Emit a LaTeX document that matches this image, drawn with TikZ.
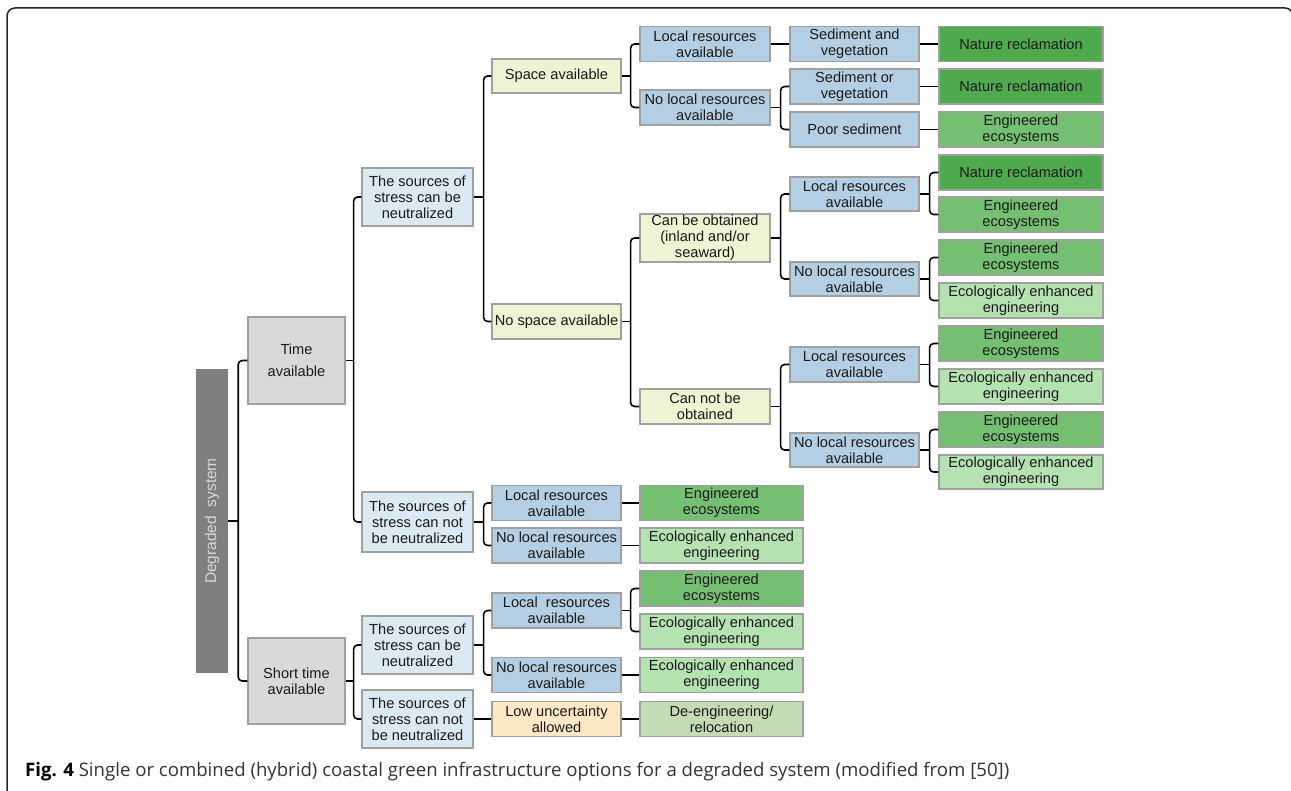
\documentclass[tikz,border=0pt]{standalone}
\usepackage{fontspec}
\setmainfont{Liberation Sans}
\newfontfamily\capfont{Open Sans}
\definecolor{degray}{HTML}{7F7F7F}
\definecolor{timegray}{HTML}{D9D9D9}
\definecolor{srcblue}{HTML}{DBE9F2}
\definecolor{midblue}{HTML}{B4CFE3}
\definecolor{paleyellow}{HTML}{EFF2D3}
\definecolor{natgreen}{HTML}{4EAA4C}
\definecolor{enggreen}{HTML}{75BF72}
\definecolor{ecogreen}{HTML}{B5E2B1}
\definecolor{deenggreen}{HTML}{C3DCB5}
\definecolor{loworange}{HTML}{FDE8C6}
\definecolor{boxgray}{HTML}{A0A0A0}
\definecolor{txt}{HTML}{1A1A1A}
\begin{document}
\begin{tikzpicture}[x=1pt,y=-1pt,
  box/.style={draw=boxgray, line width=1.2pt, align=center, inner sep=0pt, text=txt,
    font=\fontsize{14.6}{16}\selectfont, minimum height=35pt},
  timebox/.style={box, fill=timegray, minimum width=97pt, minimum height=87pt},
  srcbox/.style={box, fill=srcblue, minimum width=111pt, minimum height=58pt},
  yelbox/.style={box, fill=paleyellow, minimum width=129pt},
  resbox/.style={box, fill=midblue, minimum width=129pt},
  natleaf/.style={box, fill=natgreen, minimum width=164pt},
  engleaf/.style={box, fill=enggreen, minimum width=164pt},
  ecoleaf/.style={box, fill=ecogreen, minimum width=164pt},
  link/.style={line width=1.6pt, draw=black},
  busline/.style={link, rounded corners=4pt}]
\useasboundingbox (0,0) rectangle (1291,791);
\draw[line width=1.5pt, draw=black!85, rounded corners=8pt] (7,800) -- (7,8) -- (1293,8) -- (1293,800);

% root and first split
\node[fill=degray, inner sep=0pt, minimum width=32pt, minimum height=304pt, text=white!85!black,
  font=\fontsize{15.5}{16}\selectfont] (deg) at (212,521) {\rotatebox{90}{Degraded~ system}};
\node[timebox, font=\fontsize{14.6}{22}\selectfont] (time) at (296.5,360.5) {Time\\available};
\node[timebox, minimum height=86pt] (short) at (296.5,681) {Short time\\available};

% sources of stress
\node[srcbox] (neutA) at (417.5,197) {The sources of\\stress can be\\neutralized};
\node[srcbox, minimum height=60pt] (notneutA) at (417.5,522) {The sources of\\stress can not\\be neutralized};
\node[srcbox] (neutB) at (417.5,645) {The sources of\\stress can be\\neutralized};
\node[srcbox] (notneutB) at (417.5,719) {The sources of\\stress can not\\be neutralized};

% third column
\node[yelbox, minimum height=34pt] (space) at (556.5,76) {Space available};
\node[yelbox] (nospace) at (556.5,321.5) {No space available};
\node[resbox] (locA) at (556.5,503) {Local resources\\available};
\node[resbox] (nolocA) at (556.5,545.5) {No local resources\\available};
\node[resbox] (locB) at (556.5,610.5) {Local~ resources\\available};
\node[resbox] (nolocB) at (556.5,675) {No local resources\\available};
\node[box, fill=loworange, minimum width=129pt] (lowunc) at (556.5,719) {Low uncertainty\\allowed};

% short leaves
\node[engleaf, minimum width=163pt] (engA) at (721.5,503) {Engineered\\ecosystems};
\node[ecoleaf, minimum width=163pt] (ecoA) at (721.5,545.5) {Ecologically enhanced\\engineering};
\node[engleaf, minimum width=163pt] (engB) at (721.5,588.5) {Engineered\\ecosystems};
\node[ecoleaf, minimum width=163pt] (ecoB) at (721.5,631.5) {Ecologically enhanced\\engineering};
\node[ecoleaf, minimum width=163pt] (ecoC) at (721.5,675) {Ecologically enhanced\\engineering};
\node[box, fill=deenggreen, minimum width=163pt] (deeng) at (721.5,719) {De-engineering/\\relocation};

% space branch
\node[resbox, minimum width=130pt] (spLoc) at (705,44) {Local resources\\available};
\node[resbox, minimum width=130pt] (spNoloc) at (705,107.5) {No local resources\\available};
\node[yelbox, minimum width=130pt, minimum height=48pt] (obtain) at (705,238) {Can be obtained\\(inland and/or\\seaward)};
\node[yelbox, minimum width=130pt] (notobtain) at (705,406.5) {Can not be\\obtained};

\node[resbox] (sedAnd) at (854.5,44) {Sediment and\\vegetation};
\node[resbox] (sedOr) at (854.5,86.5) {Sediment or\\vegetation};
\node[resbox] (poorSed) at (854.5,129.5) {Poor sediment};
\node[resbox, minimum height=34pt] (obLoc) at (854.5,194) {Local resources\\available};
\node[resbox, minimum height=34pt] (obNoloc) at (854.5,279) {No local resources\\available};
\node[resbox] (noLoc) at (854.5,364.5) {Local resources\\available};
\node[resbox, minimum height=34pt] (noNoloc) at (854.5,450) {No local resources\\available};

% leaves on the right
\node[natleaf] (nat1) at (1021,44) {Nature reclamation};
\node[natleaf] (nat2) at (1021,86.5) {Nature reclamation};
\node[engleaf] (eng1) at (1021,129.5) {Engineered\\ecosystems};
\node[natleaf] (nat3) at (1021,172.5) {Nature reclamation};
\node[engleaf] (eng2) at (1021,214.5) {Engineered\\ecosystems};
\node[engleaf] (eng3) at (1021,257.5) {Engineered\\ecosystems};
\node[ecoleaf] (eco1) at (1021,300.5) {Ecologically enhanced\\engineering};
\node[engleaf] (eng4) at (1021,343.5) {Engineered\\ecosystems};
\node[ecoleaf] (eco2) at (1021,386.5) {Ecologically enhanced\\engineering};
\node[engleaf] (eng5) at (1021,429.5) {Engineered\\ecosystems};
\node[ecoleaf, minimum height=34pt] (eco3) at (1021,472) {Ecologically enhanced\\engineering};

% connectors
\draw[link] (deg.east) -- ++(10,0) coordinate (jdeg);
\draw[busline] (jdeg) |- (time.west);
\draw[busline] (jdeg) |- (short.west);
\draw[link] (time.east) -- ++(8,0) coordinate (jtime);
\draw[busline] (jtime) |- (neutA.west);
\draw[busline] (jtime) |- (notneutA.west);
\draw[link] (short.east) -- ++(8,0) coordinate (jshort);
\draw[busline] (jshort) |- (neutB.west);
\draw[busline] (jshort) |- (notneutB.west);

\draw[link] (neutA.east) -- ++(10,0) coordinate (jneutA);
\draw[busline] (jneutA) |- (space.west);
\draw[busline] (jneutA) |- (nospace.west);
\draw[link] (notneutA.east) -- ++(10,0) coordinate (jnotneutA);
\draw[busline] (jnotneutA) |- (locA.west);
\draw[busline] (jnotneutA) |- (nolocA.west);
\draw[link] (neutB.east) -- ++(10,0) coordinate (jneutB);
\draw[busline] (jneutB) |- (locB.west);
\draw[busline] (jneutB) |- (nolocB.west);
\draw[link] (notneutB.east) -- (lowunc.west);

\draw[link] (locA.east) -- (engA.west);
\draw[link] (nolocA.east) -- (ecoA.west);
\draw[link] (locB.east) -- ++(9,0) coordinate (jlocB);
\draw[busline] (jlocB) |- (engB.west);
\draw[busline] (jlocB) |- (ecoB.west);
\draw[link] (nolocB.east) -- (ecoC.west);
\draw[link] (lowunc.east) -- (deeng.west);

\draw[link] (space.east) -- ++(9,0) coordinate (jspace);
\draw[busline] (jspace) |- (spLoc.west);
\draw[busline] (jspace) |- (spNoloc.west);
\draw[link] (nospace.east) -- ++(9,0) coordinate (jnospace);
\draw[busline] (jnospace) |- (obtain.west);
\draw[busline] (jnospace) |- (notobtain.west);

\draw[link] (spLoc.east) -- (sedAnd.west);
\draw[link] (spNoloc.east) -- ++(10,0) coordinate (jspNoloc);
\draw[busline] (jspNoloc) |- (sedOr.west);
\draw[busline] (jspNoloc) |- (poorSed.west);
\draw[link] (obtain.east) -- ++(10,0) coordinate (jobtain);
\draw[busline] (jobtain) |- (obLoc.west);
\draw[busline] (jobtain) |- (obNoloc.west);
\draw[link] (notobtain.east) -- ++(10,0) coordinate (jnotobtain);
\draw[busline] (jnotobtain) |- (noLoc.west);
\draw[busline] (jnotobtain) |- (noNoloc.west);

\draw[link] (sedAnd.east) -- (nat1.west);
\draw[link] (sedOr.east) -- (nat2.west);
\draw[link] (poorSed.east) -- (eng1.west);
\draw[link] (obLoc.east) -- ++(10,0) coordinate (jobLoc);
\draw[busline] (jobLoc) |- (nat3.west);
\draw[busline] (jobLoc) |- (eng2.west);
\draw[link] (obNoloc.east) -- ++(10,0) coordinate (jobNoloc);
\draw[busline] (jobNoloc) |- (eng3.west);
\draw[busline] (jobNoloc) |- (eco1.west);
\draw[link] (noLoc.east) -- ++(10,0) coordinate (jnoLoc);
\draw[busline] (jnoLoc) |- (eng4.west);
\draw[busline] (jnoLoc) |- (eco2.west);
\draw[link] (noNoloc.east) -- ++(10,0) coordinate (jnoNoloc);
\draw[busline] (jnoNoloc) |- (eng5.west);
\draw[busline] (jnoNoloc) |- (eco3.west);

% caption
\node[anchor=west, inner sep=0pt, text=black!80, font=\capfont\fontsize{18.6}{20}\selectfont] (cap) at (25,772)
  {\textbf{\color{black}Fig. 4} Single or combined (hybrid) coastal green infrastructure options for a degraded system (modified from [50])};
\end{tikzpicture}
\end{document}
